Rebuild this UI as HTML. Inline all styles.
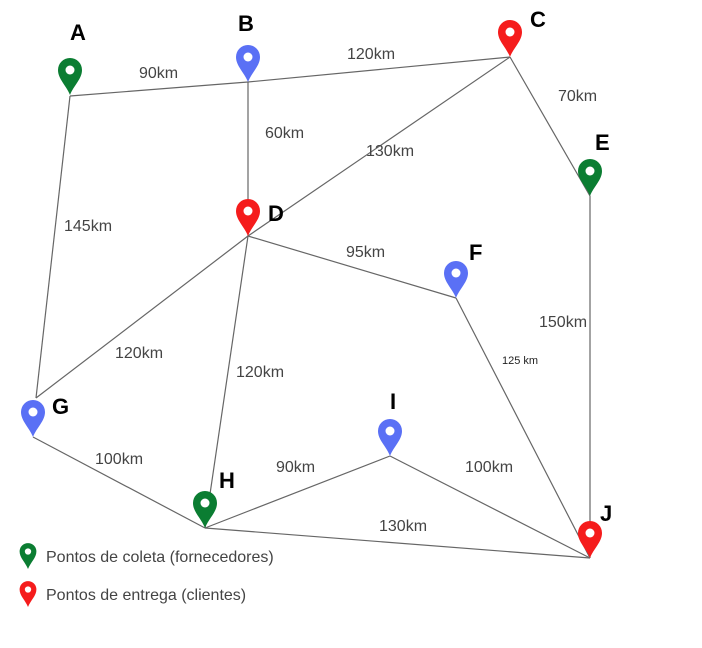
<!DOCTYPE html>
<html><head><meta charset="utf-8"><style>
body{margin:0;background:#fff;}
svg text{font-family:"Liberation Sans",sans-serif;}
</style></head><body>
<svg width="702" height="643" viewBox="0 0 702 643" xmlns="http://www.w3.org/2000/svg">
<defs>
<g id="pin"><path d="M0,0 C-4,-10 -12,-16 -12,-25 A12,12 0 1 1 12,-25 C12,-16 4,-10 0,0 Z"/><circle cx="0" cy="-25" r="4.5" fill="#fff"/></g>
</defs>
<g stroke="#666" stroke-width="1.2" fill="none">
<line x1="70" y1="96" x2="248" y2="82"/>
<line x1="248" y1="82" x2="510" y2="57"/>
<line x1="248" y1="82" x2="248" y2="236"/>
<line x1="510" y1="57" x2="248" y2="236"/>
<line x1="510" y1="57" x2="590" y2="196"/>
<line x1="70" y1="96" x2="36" y2="398"/>
<line x1="248" y1="236" x2="36" y2="398"/>
<line x1="248" y1="236" x2="205" y2="528"/>
<line x1="248" y1="236" x2="456" y2="298"/>
<line x1="456" y1="298" x2="590" y2="558"/>
<line x1="590" y1="196" x2="590" y2="558"/>
<line x1="33" y1="437" x2="205" y2="528"/>
<line x1="205" y1="528" x2="390" y2="456"/>
<line x1="390" y1="456" x2="590" y2="558"/>
<line x1="205" y1="528" x2="590" y2="558"/>
</g>
<g font-size="16" fill="#444">
<text x="139" y="78">90km</text>
<text x="347" y="59">120km</text>
<text x="558" y="101">70km</text>
<text x="265" y="138">60km</text>
<text x="366" y="156">130km</text>
<text x="64" y="231">145km</text>
<text x="346" y="257">95km</text>
<text x="539" y="327">150km</text>
<text x="115" y="358">120km</text>
<text x="236" y="377">120km</text>
<text x="95" y="464">100km</text>
<text x="276" y="472">90km</text>
<text x="465" y="472">100km</text>
<text x="379" y="531">130km</text>
<text x="502" y="364" font-size="11" fill="#222">125 km</text>
</g>
<g font-size="22" font-weight="bold" fill="#000">
<text x="70" y="40">A</text>
<text x="238" y="31">B</text>
<text x="530" y="27">C</text>
<text x="268" y="221">D</text>
<text x="595" y="150">E</text>
<text x="469" y="260">F</text>
<text x="52" y="414">G</text>
<text x="219" y="488">H</text>
<text x="390" y="409">I</text>
<text x="600" y="521">J</text>
</g>
<use href="#pin" x="70" y="95" fill="#0b7d32"/>
<use href="#pin" x="248" y="82" fill="#5a70f5"/>
<use href="#pin" x="510" y="57" fill="#f51c1c"/>
<use href="#pin" x="248" y="236" fill="#f51c1c"/>
<use href="#pin" x="590" y="196" fill="#0b7d32"/>
<use href="#pin" x="456" y="298" fill="#5a70f5"/>
<use href="#pin" x="33" y="437" fill="#5a70f5"/>
<use href="#pin" x="205" y="528" fill="#0b7d32"/>
<use href="#pin" x="390" y="456" fill="#5a70f5"/>
<use href="#pin" x="590" y="558" fill="#f51c1c"/>
<use href="#pin" x="28" y="569" fill="#0b7d32" transform="translate(28,569) scale(0.7) translate(-28,-569)"/>
<use href="#pin" x="28" y="607" fill="#f51c1c" transform="translate(28,607) scale(0.7) translate(-28,-607)"/>
<g font-size="16" fill="#444">
<text x="46" y="562">Pontos de coleta (fornecedores)</text>
<text x="46" y="600">Pontos de entrega (clientes)</text>
</g>
</svg>
</body></html>
